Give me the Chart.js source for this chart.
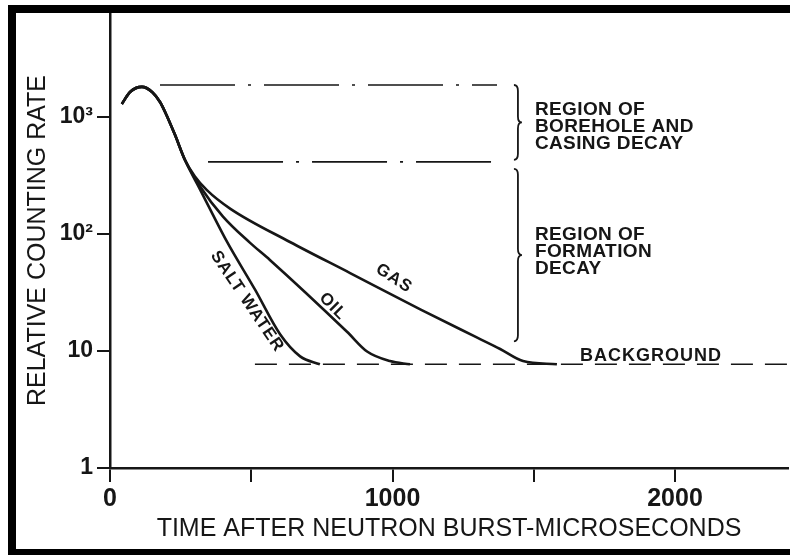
<!DOCTYPE html>
<html>
<head>
<meta charset="utf-8">
<script src="https://cdn.jsdelivr.net/npm/chart.js@4.4.0/dist/chart.umd.min.js"></script>
<style>
  html, body { margin: 0; padding: 0; background: #fff; overflow: hidden; }
  #frame {
    position: absolute; left: 8px; top: 5px; width: 782px; height: 536px;
    border-top: 8px solid #000; border-left: 8px solid #000; border-bottom: 6px solid #000;
  }
  #decay { display: block; }
</style>
</head>
<body>
<div id="frame"><canvas id="decay" width="774" height="536"></canvas></div>
<script>
// time after neutron burst (microseconds) / relative counting rate
const commonTimes = [42, 71, 113, 149, 177, 195, 230, 265];
const commonRates = [1294, 1636, 1810, 1636, 1345, 1105, 704, 431];

const saltTimes = [319, 414, 513, 602, 673, 743];
const saltRates = [240, 86, 33.6, 13.9, 9.0, 7.7];

const oilTimes = [319, 400, 496, 566, 839, 910, 991, 1062];
const oilRates = [255, 141, 84, 60, 14.6, 9.9, 8.2, 7.7];

const gasTimes = [300, 343, 425, 637, 850, 1100, 1300, 1381, 1462, 1582];
const gasRates = [312, 237, 165, 85.5, 46.4, 22.6, 13.0, 10.4, 8.2, 7.7];

// background level and region boundaries
const backgroundTimes = [513, 2400];
const backgroundRate = 7.7;
const boreholeTopTimes = [177, 1370];
const boreholeTopRate = 1878;
const boreholeBottomTimes = [347, 1370];
const boreholeBottomRate = 414;

// braces: [top, bottom] rates at one time
const braceTime = 1444;
const braceSpans = [[1878, 431], [361, 12.1]];

// text notes
const regionLines = [['REGION OF', 'BOREHOLE AND', 'CASING DECAY'], ['REGION OF', 'FORMATION', 'DECAY']];
const regionTimes = [1504, 1504];
const regionRates = [1042, 89.6];
const curveNames = ['SALT WATER', 'OIL', 'GAS'];
const curveNameTimes = [485, 789, 1005];
const curveNameRates = [26.5, 24, 41.7];
const curveNameAngles = [56, 45, 33];
const backgroundLabel = 'BACKGROUND';
const backgroundLabelTime = 1664;
const backgroundLabelRate = 8.17;

// ticks
const xTickValues = [0, 500, 1000, 1500, 2000];
const xTickLabels = ['0', '', '1000', '', '2000'];
const yTickValues = [1, 10, 100, 1000];
const yTickLabels = ['1', '10', '10\u00b2', '10\u00b3'];

const ink = '#161616';
const fontFamily = '"Liberation Sans", Arial, sans-serif';

const points = (times, rates) => times.map((t, i) => ({ x: t, y: rates[i] }));

const curve = (times, rates) => ({
  data: points(times, rates),
  borderColor: ink,
  borderWidth: 2.6,
  pointRadius: 0,
  cubicInterpolationMode: 'monotone'
});

const flat = (times, rate, dash) => ({
  data: times.map(t => ({ x: t, y: rate })),
  borderColor: ink,
  borderWidth: 1.6,
  borderDash: dash,
  pointRadius: 0,
  tension: 0
});

function drawBrace(ctx, x0, yTop, yBot) {
  const ym = (yTop + yBot) / 2;
  const w = 4, r = 6;
  ctx.beginPath();
  ctx.moveTo(x0 - w, yTop);
  ctx.quadraticCurveTo(x0, yTop, x0, yTop + r);
  ctx.lineTo(x0, ym - r);
  ctx.quadraticCurveTo(x0, ym, x0 + w, ym);
  ctx.quadraticCurveTo(x0, ym, x0, ym + r);
  ctx.lineTo(x0, yBot - r);
  ctx.quadraticCurveTo(x0, yBot, x0 - w, yBot);
  ctx.stroke();
}

const notesPlugin = {
  id: 'notes',
  afterDatasetsDraw(chart) {
    const { ctx } = chart;
    const xs = chart.scales.x, ys = chart.scales.y;
    ctx.save();
    ctx.strokeStyle = ink;
    ctx.fillStyle = ink;
    ctx.lineWidth = 1.8;

    braceSpans.forEach(span => {
      drawBrace(ctx, xs.getPixelForValue(braceTime), ys.getPixelForValue(span[0]), ys.getPixelForValue(span[1]));
    });

    // region notes
    ctx.font = 'bold 19px ' + fontFamily;
    ctx.letterSpacing = '0.4px';
    ctx.textAlign = 'left';
    ctx.textBaseline = 'alphabetic';
    regionLines.forEach((lines, i) => {
      const px = xs.getPixelForValue(regionTimes[i]);
      const py = ys.getPixelForValue(regionRates[i]);
      lines.forEach((txt, j) => ctx.fillText(txt, px, py + j * 17));
    });

    ctx.font = 'bold 18px ' + fontFamily;
    ctx.letterSpacing = '1px';
    ctx.fillText(backgroundLabel, xs.getPixelForValue(backgroundLabelTime), ys.getPixelForValue(backgroundLabelRate));

    // curve names along the lines
    ctx.font = 'bold 17px ' + fontFamily;
    ctx.textAlign = 'center';
    ctx.textBaseline = 'middle';
    curveNames.forEach((name, i) => {
      ctx.save();
      ctx.translate(xs.getPixelForValue(curveNameTimes[i]), ys.getPixelForValue(curveNameRates[i]));
      ctx.rotate(curveNameAngles[i] * Math.PI / 180);
      ctx.fillText(name, 0, 0);
      ctx.restore();
    });
    ctx.restore();
  }
};

new Chart(document.getElementById('decay').getContext('2d'), {
  type: 'line',
  data: {
    datasets: [
      curve(commonTimes.concat(saltTimes), commonRates.concat(saltRates)),
      curve(commonTimes.concat(oilTimes), commonRates.concat(oilRates)),
      curve(commonTimes.concat(gasTimes), commonRates.concat(gasRates)),
      flat(backgroundTimes, backgroundRate, [22, 12]),
      flat(boreholeTopTimes, boreholeTopRate, [75, 13, 3, 13]),
      flat(boreholeBottomTimes, boreholeBottomRate, [75, 13, 3, 13])
    ]
  },
  options: {
    responsive: false,
    animation: false,
    layout: { padding: { top: 0, right: 2, bottom: 0, left: 0 } },
    plugins: {
      legend: { display: false },
      tooltip: { enabled: false }
    },
    scales: {
      x: {
        type: 'linear',
        min: 0,
        max: 2400,
        afterBuildTicks: scale => { scale.ticks = xTickValues.map(v => ({ value: v })); },
        afterFit: scale => {
          scale.height = 81;
          scale.paddingLeft = 0;
          scale.paddingRight = 0;
        },
        ticks: {
          autoSkip: false,
          maxRotation: 0,
          padding: 2,
          color: ink,
          font: { family: fontFamily, size: 25, weight: 'bold' },
          callback: (v, i) => xTickLabels[i]
        },
        grid: { drawOnChartArea: false, drawTicks: true, tickLength: 14, color: ink, lineWidth: 2 },
        border: { display: true, color: ink, width: 2.5 },
        title: {
          display: true,
          text: 'TIME AFTER NEUTRON BURST-MICROSECONDS',
          color: ink,
          font: { family: fontFamily, size: 25, lineHeight: 1.2 },
          padding: { top: 0, bottom: 5 }
        }
      },
      y: {
        type: 'logarithmic',
        min: 1,
        max: 7750,
        afterBuildTicks: scale => { scale.ticks = yTickValues.map(v => ({ value: v })); },
        afterFit: scale => {
          scale.width = 94;
          scale.paddingTop = 0;
          scale.paddingBottom = 0;
        },
        ticks: {
          padding: 4,
          color: ink,
          font: { family: fontFamily, size: 23, weight: 'bold' },
          callback: (v, i) => yTickLabels[i]
        },
        grid: { drawOnChartArea: false, drawTicks: true, tickLength: 13, color: ink, lineWidth: 2 },
        border: { display: true, color: ink, width: 2.5 },
        title: {
          display: true,
          text: 'RELATIVE COUNTING RATE',
          color: ink,
          font: { family: fontFamily, size: 25, lineHeight: 1.2 },
          padding: { top: 7, bottom: 0 }
        }
      }
    }
  },
  plugins: [notesPlugin]
});
</script>
</body>
</html>
